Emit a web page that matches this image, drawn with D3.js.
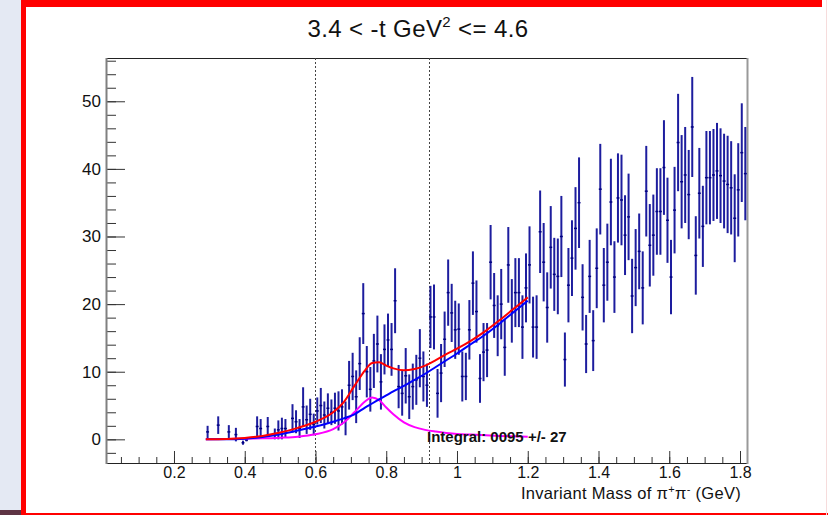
<!DOCTYPE html>
<html>
<head>
<meta charset="utf-8">
<script src="https://cdn.jsdelivr.net/npm/d3@7"></script>
<style>
  body { margin: 0; background: #fff; }
  svg text { font-family: "Liberation Sans", Arial, sans-serif; }
</style>
</head>
<body>
<div id="chart"></div>
<script>
// histogram bin centres (GeV), contents and errors
var mass = [0.295, 0.325, 0.355, 0.375, 0.395, 0.405, 0.435, 0.445, 0.465, 0.485,
  0.495, 0.505, 0.515, 0.535, 0.545, 0.555, 0.565, 0.575, 0.585, 0.595,
  0.605, 0.615, 0.625, 0.635, 0.645, 0.655, 0.665, 0.675, 0.685, 0.695,
  0.705, 0.715, 0.725, 0.735, 0.745, 0.755, 0.765, 0.775, 0.785, 0.795,
  0.805, 0.815, 0.825, 0.835, 0.845, 0.855, 0.865, 0.875, 0.885, 0.895,
  0.905, 0.915, 0.925, 0.935, 0.945, 0.955, 0.965, 0.975, 0.985, 0.995,
  1.005, 1.015, 1.025, 1.035, 1.045, 1.055, 1.065, 1.075, 1.085, 1.095,
  1.105, 1.115, 1.125, 1.135, 1.145, 1.155, 1.165, 1.175, 1.185, 1.195,
  1.205, 1.215, 1.225, 1.235, 1.245, 1.255, 1.265, 1.275, 1.285, 1.295,
  1.305, 1.315, 1.325, 1.335, 1.345, 1.355, 1.365, 1.375, 1.385, 1.395,
  1.405, 1.415, 1.425, 1.435, 1.445, 1.455, 1.465, 1.475, 1.485, 1.495,
  1.505, 1.515, 1.525, 1.535, 1.545, 1.555, 1.565, 1.575, 1.585, 1.595,
  1.605, 1.615, 1.625, 1.635, 1.645, 1.655, 1.665, 1.675, 1.685, 1.695,
  1.705, 1.715, 1.725, 1.735, 1.745, 1.755, 1.765, 1.775, 1.785, 1.795,
  1.805, 1.815];

var counts = [1.1, 2.1, 1.1, 0.7, -0.5, -0.1, 1.9, 1.6, 1.9, 0.8,
  1.4, 1.6, 1.6, 3.1, 2.6, 1.6, 4.8, 2.9, 3.7, 2.2,
  4.2, 5.0, 3.6, 4.6, 4.0, 4.6, 4.2, 4.8, 3.1, 8.0,
  9.3, 6.3, 11.2, 18.6, 10.0, 7.4, 11.6, 14.1, 8.5, 13.3,
  14.7, 13.3, 20.5, 7.8, 6.8, 9.4, 6.3, 7.8, 8.8, 12.0,
  9.3, 8.0, 18.1, 18.1, 6.8, 9.8, 14.8, 21.7, 18.7, 16.2,
  16.3, 9.3, 9.3, 16.2, 23.1, 18.9, 9.0, 12.9, 13.2, 26.2,
  19.8, 16.8, 20.0, 13.6, 25.8, 19.0, 21.7, 21.7, 16.6, 22.4,
  25.8, 16.6, 16.6, 30.7, 26.2, 19.5, 28.4, 24.4, 24.1, 30.0,
  11.8, 22.8, 26.8, 31.2, 35.0, 21.0, 14.1, 24.1, 14.6, 25.3,
  37.0, 22.8, 26.2, 35.1, 24.0, 35.7, 35.4, 30.2, 32.9, 21.2,
  25.4, 27.8, 22.4, 36.7, 28.7, 30.2, 33.7, 33.7, 40.2, 32.4,
  24.0, 33.9, 43.9, 38.1, 39.1, 36.2, 46.2, 27.2, 36.4, 31.5,
  38.7, 38.7, 39.1, 39.7, 39.0, 38.2, 37.7, 37.2, 32.7, 36.9,
  42.4, 39.3];

var errors = [0.9, 1.3, 1.0, 1.0, 0.3, 0.2, 1.5, 1.4, 1.4, 0.8,
  1.4, 1.6, 1.4, 2.1, 1.7, 1.4, 2.9, 2.1, 2.3, 1.6,
  2.0, 2.6, 2.0, 2.2, 1.9, 2.3, 2.9, 2.6, 2.5, 3.6,
  3.5, 3.9, 3.9, 4.5, 3.8, 3.3, 4.0, 4.2, 4.1, 3.7,
  3.9, 3.9, 4.8, 3.2, 3.3, 4.1, 3.3, 3.4, 3.7, 4.3,
  3.7, 3.2, 4.6, 4.8, 3.6, 4.3, 4.1, 4.9, 4.3, 4.3,
  3.8, 3.7, 3.5, 4.4, 4.7, 4.6, 3.6, 4.3, 4.0, 5.5,
  4.8, 4.5, 5.2, 4.2, 5.6, 4.7, 5.1, 5.1, 4.7, 5.1,
  5.7, 4.5, 4.7, 6.1, 5.8, 5.2, 6.1, 5.4, 5.6, 6.0,
  4.0, 5.5, 5.6, 6.1, 6.7, 4.9, 4.3, 5.4, 4.5, 5.9,
  6.7, 5.5, 5.7, 6.4, 5.3, 6.6, 6.7, 5.9, 6.4, 5.5,
  5.7, 5.6, 5.4, 6.7, 6.1, 6.0, 6.4, 6.4, 7.0, 6.3,
  5.5, 6.4, 7.2, 6.9, 7.1, 6.6, 7.4, 5.8, 6.7, 6.0,
  6.9, 6.9, 6.8, 7.1, 7.0, 7.0, 7.2, 6.9, 6.5, 6.9,
  7.3, 6.9];

var binWidth = 0.01;

// fit curves
var fitMass = [0.29, 0.35, 0.40, 0.45, 0.50, 0.55, 0.60, 0.65, 0.68, 0.71,
  0.74, 0.76, 0.78, 0.80, 0.82, 0.85, 0.88, 0.91, 0.94, 0.97,
  1.00, 1.04, 1.08, 1.12, 1.16, 1.20];
var bgFit = [0.0, 0.0, 0.1, 0.35, 0.75, 1.3, 1.9, 2.6, 3.1, 3.7,
  4.7, 5.3, 5.9, 6.5, 7.1, 7.9, 8.8, 9.7, 10.7, 11.7,
  12.7, 14.1, 15.5, 17.1, 18.8, 20.5];
var signalFit = [0.0, 0.05, 0.1, 0.15, 0.25, 0.4, 0.75, 1.5, 2.5, 4.0,
  5.6, 6.2, 5.8, 4.7, 3.7, 2.5, 1.8, 1.4, 1.15, 0.95,
  0.8, 0.7, 0.6, 0.5, 0.45, 0.4];
var totalFit = [0.0, 0.05, 0.2, 0.5, 1.0, 1.7, 2.6, 4.0, 5.5, 7.9,
  10.2, 11.3, 11.4, 10.9, 10.5, 10.2, 10.4, 10.9, 11.7, 12.6,
  13.4, 14.6, 16.0, 17.6, 19.3, 21.0];

var xTickValues = [0.2, 0.4, 0.6, 0.8, 1.0, 1.2, 1.4, 1.6, 1.8];
var xTickLabels = ["0.2", "0.4", "0.6", "0.8", "1", "1.2", "1.4", "1.6", "1.8"];
var yTickValues = [0, 10, 20, 30, 40, 50];
var cutLines = [0.6, 0.92];
var integralText = "Integral: 0095 +/- 27";

// page frame
var svgWidth = 828;
var svgHeight = 515;
var frame = { left: 106, right: 748, top: 58, bottom: 463 };

var svg = d3.select("#chart")
  .append("svg")
  .attr("width", svgWidth)
  .attr("height", svgHeight);

// canvas decorations (side panel, red selection border)
svg.append("rect").attr("x", 0).attr("y", 0).attr("width", 21).attr("height", svgHeight).attr("fill", "#e4e9f3");
svg.append("rect").attr("x", 0).attr("y", 510).attr("width", 21).attr("height", 5).attr("fill", "#5e3444");
svg.append("rect").attr("x", 21).attr("y", 0).attr("width", 5).attr("height", svgHeight).attr("fill", "#ff0000");
svg.append("rect").attr("x", 21).attr("y", 0).attr("width", 801).attr("height", 7).attr("fill", "#ff0000");
svg.append("rect").attr("x", 21).attr("y", 513).attr("width", 807).attr("height", 2).attr("fill", "#ff0000");
svg.append("rect").attr("x", 826).attr("y", 0).attr("width", 1).attr("height", svgHeight).attr("fill", "#f6dcdc");

// scales
var x = d3.scaleLinear()
  .domain([0.0078, 1.8226])
  .range([frame.left, frame.right]);

var y = d3.scaleLinear()
  .domain([-3.5, 56.4])
  .range([frame.bottom, frame.top]);

// axes
var bottomAxis = d3.axisBottom(x)
  .tickValues(xTickValues)
  .tickFormat((d, i) => xTickLabels[i])
  .tickSizeInner(-12)
  .tickSizeOuter(0)
  .tickPadding(4);

var bottomMinor = d3.axisBottom(x)
  .tickValues(d3.range(0.05, 1.82, 0.05))
  .tickFormat("")
  .tickSizeInner(-6)
  .tickSizeOuter(0);

var leftAxis = d3.axisLeft(y)
  .tickValues(yTickValues)
  .tickSizeInner(-19)
  .tickSizeOuter(0)
  .tickPadding(5);

var leftMinor = d3.axisLeft(y)
  .tickValues(d3.range(-2, 57, 2))
  .tickFormat("")
  .tickSizeInner(-10)
  .tickSizeOuter(0);

function styleAxis(g, size) {
  g.select(".domain").remove();
  g.selectAll(".tick line").attr("stroke", "#333").attr("stroke-width", 1);
  g.selectAll(".tick text")
    .attr("fill", "#111")
    .style("font-size", size)
    .style("font-family", "'Liberation Sans', Arial, sans-serif");
}

svg.append("g")
  .attr("transform", `translate(0, ${frame.bottom})`)
  .call(bottomMinor)
  .call(styleAxis, "16px");

svg.append("g")
  .attr("transform", `translate(0, ${frame.bottom})`)
  .call(bottomAxis)
  .call(styleAxis, "16px");

svg.append("g")
  .attr("transform", `translate(${frame.left}, 0)`)
  .call(leftMinor)
  .call(styleAxis, "17px");

svg.append("g")
  .attr("transform", `translate(${frame.left}, 0)`)
  .call(leftAxis)
  .call(styleAxis, "17px");

// frame lines
svg.append("line").attr("x1", frame.left).attr("x2", frame.right).attr("y1", frame.top + 0.5).attr("y2", frame.top + 0.5)
  .attr("stroke", "#222");
svg.append("line").attr("x1", frame.left).attr("x2", frame.right).attr("y1", frame.bottom + 0.5).attr("y2", frame.bottom + 0.5)
  .attr("stroke", "#222");
svg.append("line").attr("x1", frame.left + 0.5).attr("x2", frame.left + 0.5).attr("y1", frame.top).attr("y2", frame.bottom + 1)
  .attr("stroke", "#808080").attr("stroke-width", 2);
svg.append("line").attr("x1", frame.right - 0.5).attr("x2", frame.right - 0.5).attr("y1", frame.top).attr("y2", frame.bottom + 1)
  .attr("stroke", "#999").attr("stroke-width", 2);

// dotted cut lines
svg.selectAll(".cut")
  .data(cutLines)
  .enter()
  .append("line")
  .attr("class", "cut")
  .attr("x1", d => Math.round(x(d)) + 0.5)
  .attr("x2", d => Math.round(x(d)) + 0.5)
  .attr("y1", frame.top)
  .attr("y2", frame.bottom)
  .attr("stroke", "#444")
  .attr("stroke-dasharray", "2,2");

// data points with error bars
var points = mass.map((m, i) => ({ m: m, v: counts[i], e: errors[i] }));

var pts = svg.append("g");

pts.selectAll(".ebar")
  .data(points)
  .enter()
  .append("line")
  .attr("class", "ebar")
  .attr("x1", d => x(d.m))
  .attr("x2", d => x(d.m))
  .attr("y1", d => y(d.v - d.e))
  .attr("y2", d => y(d.v + d.e))
  .attr("stroke", "#1d1d9e")
  .attr("stroke-width", 2);

pts.selectAll(".xbar")
  .data(points)
  .enter()
  .append("line")
  .attr("class", "xbar")
  .attr("x1", d => x(d.m - binWidth / 2) + 0.3)
  .attr("x2", d => x(d.m + binWidth / 2) - 0.3)
  .attr("y1", d => y(d.v))
  .attr("y2", d => y(d.v))
  .attr("stroke", "#000080")
  .attr("stroke-width", 1.5);

// fit curves
var fitLine = function(values) {
  return d3.line()
    .x((d, i) => x(fitMass[i]))
    .y((d, i) => y(values[i]))
    .curve(d3.curveMonotoneX)(values);
};

svg.append("path").attr("d", fitLine(signalFit)).attr("fill", "none").attr("stroke", "#ff00ff").attr("stroke-width", 2);
svg.append("path").attr("d", fitLine(bgFit)).attr("fill", "none").attr("stroke", "#0000ff").attr("stroke-width", 2);
svg.append("path").attr("d", fitLine(totalFit)).attr("fill", "none").attr("stroke", "#ff0000").attr("stroke-width", 2);

// integral label
svg.append("text")
  .attr("x", 427)
  .attr("y", 442)
  .attr("font-size", "15px")
  .attr("font-weight", "bold")
  .attr("fill", "#111")
  .text(integralText);

// title
var title = svg.append("text")
  .attr("x", 418)
  .attr("y", 37)
  .attr("text-anchor", "middle")
  .attr("font-size", "24px")
  .attr("letter-spacing", "0.4px")
  .attr("fill", "#111");
title.append("tspan").text("3.4 < -t GeV");
title.append("tspan").attr("font-size", "15px").attr("dy", -10).text("2");
title.append("tspan").attr("dy", 10).text(" <= 4.6");

// x axis title
var xTitle = svg.append("text")
  .attr("x", 741)
  .attr("y", 499)
  .attr("text-anchor", "end")
  .attr("font-size", "16.5px")
  .attr("letter-spacing", "0.3px")
  .attr("fill", "#111");
xTitle.append("tspan").text("Invariant Mass of \u03c0");
xTitle.append("tspan").attr("font-size", "11px").attr("dy", -6).text("+");
xTitle.append("tspan").attr("dy", 6).text("\u03c0");
xTitle.append("tspan").attr("font-size", "11px").attr("dy", -6).text("-");
xTitle.append("tspan").attr("dy", 6).text(" (GeV)");
</script>
</body>
</html>
